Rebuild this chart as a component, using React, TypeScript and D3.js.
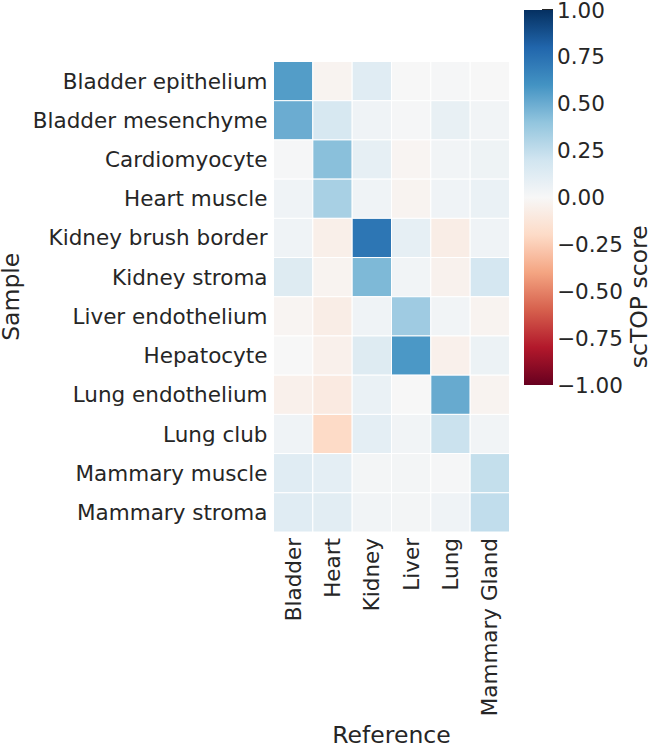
import { useEffect, useRef } from "react";
import * as d3 from "d3";

const samples = [
  "Bladder epithelium",
  "Bladder mesenchyme",
  "Cardiomyocyte",
  "Heart muscle",
  "Kidney brush border",
  "Kidney stroma",
  "Liver endothelium",
  "Hepatocyte",
  "Lung endothelium",
  "Lung club",
  "Mammary muscle",
  "Mammary stroma",
];
const references = ["Bladder", "Heart", "Kidney", "Liver", "Lung", "Mammary Gland"];

// one row per sample, columns follow `references`
const scores = [
  [0.56, -0.03, 0.12, 0.0, 0.01, 0.0],
  [0.5, 0.17, 0.04, 0.01, 0.08, 0.03],
  [0.01, 0.42, 0.09, -0.02, 0.03, 0.05],
  [0.04, 0.33, 0.04, -0.03, 0.04, 0.07],
  [0.04, -0.06, 0.73, 0.09, -0.07, 0.04],
  [0.13, -0.03, 0.45, 0.03, -0.04, 0.18],
  [-0.02, -0.07, 0.04, 0.36, 0.03, -0.03],
  [0.0, -0.05, 0.13, 0.58, -0.05, 0.06],
  [-0.05, -0.09, 0.07, 0.0, 0.51, -0.03],
  [0.04, -0.2, 0.1, 0.03, 0.22, 0.03],
  [0.12, 0.1, 0.02, 0.02, 0.01, 0.24],
  [0.12, 0.11, 0.03, 0.02, 0.04, 0.25],
];
const cbarTicks = [1, 0.75, 0.5, 0.25, 0, -0.25, -0.5, -0.75, -1];

// matplotlib RdBu
const rdbu = ["#67001f", "#b2182b", "#d6604d", "#f4a582", "#fddbc7", "#f7f7f7", "#d1e5f0", "#92c5de", "#4393c3", "#2166ac", "#053061"];

function App() {
  const svgRef = useRef(null);
  const width = 652, height = 747;
  const hm = { left: 273.5, right: 509.5, top: 61.5, bottom: 532 };
  const cb = { left: 524, right: 553, top: 10, bottom: 385 };
  const ink = "#262626";
  const font = "'DejaVu Sans', sans-serif";

  useEffect(() => {
    const svg = d3.select(svgRef.current);
    svg.selectAll("*").remove();

    const color = d3.scaleLinear<string>()
      .domain(d3.range(11).map(i => -1 + i * 0.2))
      .range(rdbu)
      .interpolate(d3.interpolateRgb)
      .clamp(true);

    const x = d3.scaleBand().domain(references).range([hm.left, hm.right]);
    const y = d3.scaleBand().domain(samples).range([hm.top, hm.bottom]);

    const cells = [];
    scores.forEach((row, i) => row.forEach((v, j) => cells.push({ s: samples[i], r: references[j], v })));

    svg.append("g")
      .selectAll("rect")
      .data(cells)
      .enter().append("rect")
      .attr("x", d => x(d.r))
      .attr("y", d => y(d.s))
      .attr("width", x.bandwidth())
      .attr("height", y.bandwidth())
      .attr("fill", d => color(d.v))
      .attr("stroke", "white")
      .attr("stroke-width", 1);

    // y tick labels
    svg.append("g")
      .selectAll("text")
      .data(samples)
      .enter().append("text")
      .attr("x", hm.left - 6)
      .attr("y", d => y(d) + y.bandwidth() / 2)
      .attr("dy", "0.35em")
      .attr("text-anchor", "end")
      .attr("font-size", 21.5)
      .attr("font-family", font)
      .attr("fill", ink)
      .text(d => d);

    // x tick labels (rotated)
    svg.append("g")
      .selectAll("text")
      .data(references)
      .enter().append("text")
      .attr("transform", d => `translate(${x(d) + x.bandwidth() / 2}, ${hm.bottom + 6}) rotate(-90)`)
      .attr("dy", "0.35em")
      .attr("text-anchor", "end")
      .attr("font-size", 21.5)
      .attr("font-family", font)
      .attr("fill", ink)
      .text(d => d);

    svg.append("text")
      .attr("x", (hm.left + hm.right) / 2)
      .attr("y", 743)
      .attr("text-anchor", "middle")
      .attr("font-size", 23.5)
      .attr("font-family", font)
      .attr("fill", ink)
      .text("Reference");

    svg.append("text")
      .attr("transform", `translate(19, ${(hm.top + hm.bottom) / 2}) rotate(-90)`)
      .attr("text-anchor", "middle")
      .attr("font-size", 23.5)
      .attr("font-family", font)
      .attr("fill", ink)
      .text("Sample");

    // colorbar
    const cy = d3.scaleLinear().domain([-1, 1]).range([cb.bottom, cb.top]);
    const defs = svg.append("defs");
    const grad = defs.append("linearGradient")
      .attr("id", "cbar")
      .attr("x1", 0).attr("y1", 1).attr("x2", 0).attr("y2", 0);
    d3.range(0, 1.0001, 0.05).forEach(t => {
      grad.append("stop").attr("offset", t).attr("stop-color", color(-1 + 2 * t));
    });
    svg.append("rect")
      .attr("x", cb.left)
      .attr("y", cy(1))
      .attr("width", cb.right - cb.left)
      .attr("height", cy(-1) - cy(1))
      .attr("fill", "url(#cbar)");
    svg.append("line")
      .attr("x1", cb.right - 11).attr("x2", cb.right)
      .attr("y1", cy(1) - 0.5).attr("y2", cy(1) - 0.5)
      .attr("stroke", ink).attr("stroke-width", 1);

    svg.append("g")
      .selectAll("text")
      .data(cbarTicks)
      .enter().append("text")
      .attr("x", cb.right + 4)
      .attr("y", d => cy(d))
      .attr("dy", "0.35em")
      .attr("font-size", 21.5)
      .attr("font-family", font)
      .attr("fill", ink)
      .text(d => d3.format(".2f")(d).replace("-", "\u2212"));

    svg.append("text")
      .attr("transform", `translate(647, ${(hm.top + hm.bottom) / 2}) rotate(-90)`)
      .attr("text-anchor", "middle")
      .attr("font-size", 23.5)
      .attr("font-family", font)
      .attr("fill", ink)
      .text("scTOP score");
  }, []);

  return (
    <svg ref={svgRef} width={width} height={height}
      style={{ position: "absolute", left: 0, top: 0, background: "white" }} />
  );
}

export default App;
